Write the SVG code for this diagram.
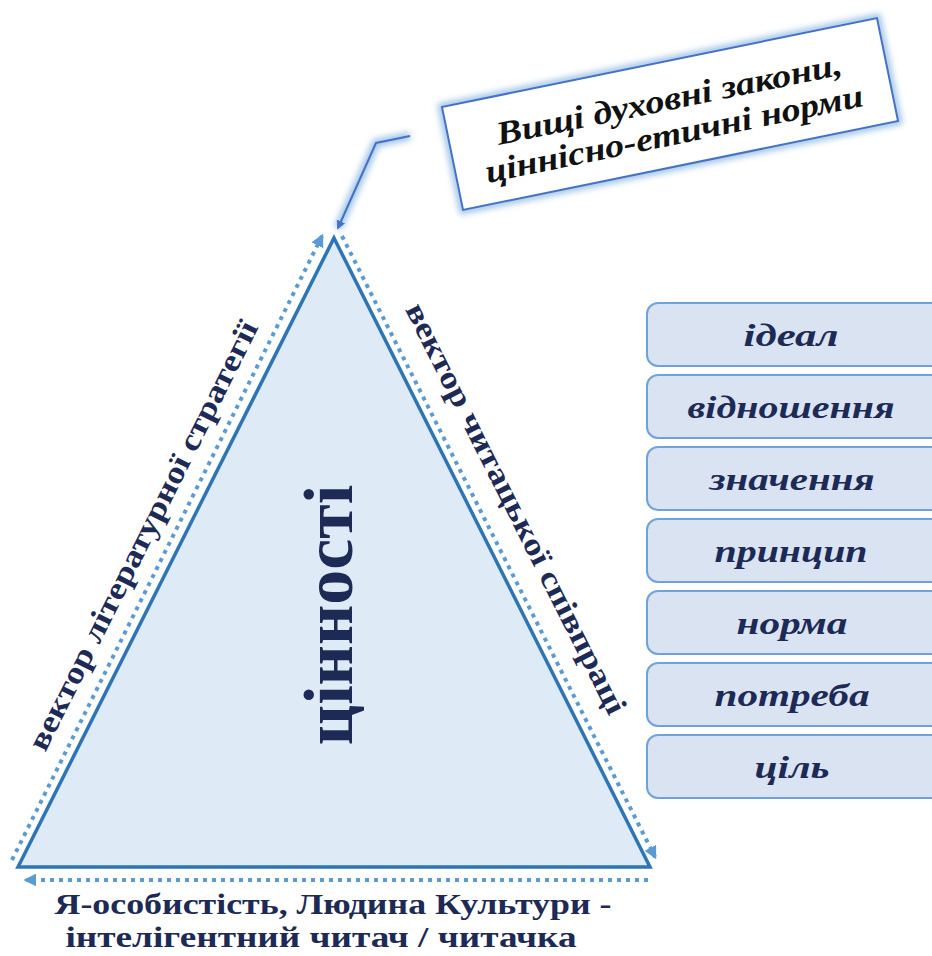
<svg xmlns="http://www.w3.org/2000/svg" width="932" height="956" viewBox="0 0 932 956">
<defs>
<style>
.dot{fill:none;stroke:#5b9bd5;stroke-width:4;stroke-dasharray:4 5}
.tri{fill:#deebf7;stroke:#2e75b6;stroke-width:3.5;stroke-linejoin:miter}
.box rect{fill:#d9e3f2;stroke:#6fa3d8;stroke-width:2}
.box text{font-family:"Liberation Serif","DejaVu Serif",serif;font-weight:bold;font-style:italic;font-size:32px;fill:#1c2a55;text-anchor:middle}
.lbl{font-family:"Liberation Serif","DejaVu Serif",serif;font-weight:bold;fill:#1c2a55;text-anchor:middle}
.call{font-family:"Liberation Serif","DejaVu Serif",serif;font-weight:bold;font-style:italic;font-size:33px;fill:#111;text-anchor:middle}
</style>
<filter id="blur" x="-20%" y="-20%" width="140%" height="140%"><feGaussianBlur stdDeviation="3"/></filter>
<marker id="ah" viewBox="0 0 10 10" refX="8" refY="5" markerWidth="13" markerHeight="13" markerUnits="userSpaceOnUse" orient="auto"><path d="M0,0 L10,5 L0,10 z" fill="#5b9bd5"/></marker>
<marker id="ah2" viewBox="0 0 10 10" refX="8" refY="5" markerWidth="9" markerHeight="9" markerUnits="userSpaceOnUse" orient="auto"><path d="M0,0 L10,5 L0,10 z" fill="#4472c4"/></marker>
</defs>
<rect width="932" height="956" fill="#ffffff"/>

<g id="triangle">
<polygon class="tri" points="334,238 650,867 18,867"/>
<text class="lbl" font-size="70" transform="translate(352,615) rotate(-90)" fill="#203864">цінності</text>
</g>

<g id="connectors">
<line class="dot" x1="12" y1="860" x2="322" y2="236" marker-end="url(#ah)"/>
<line class="dot" x1="342" y1="236" x2="655" y2="857" marker-end="url(#ah)"/>
<line class="dot" x1="648" y1="880" x2="26" y2="880" marker-end="url(#ah)"/>
<polyline points="410,136 376,143 338,228" fill="none" stroke="#9dc3e6" stroke-width="8" filter="url(#blur)"/>
<polyline points="410,136 376,143 338,228" fill="none" stroke="#4472c4" stroke-width="2" marker-end="url(#ah2)"/>
</g>

<g id="label-left">
<text class="lbl" font-size="31" textLength="476" lengthAdjust="spacingAndGlyphs" transform="translate(152,540) rotate(-63.33)">вектор літературної стратегії</text>
</g>
<g id="label-right">
<text class="lbl" font-size="31" textLength="456" lengthAdjust="spacingAndGlyphs" transform="translate(507,513) rotate(63.33)">вектор читацької співпраці</text>
</g>
<g id="label-bottom">
<text class="lbl" font-size="29" x="333" y="914" textLength="557" lengthAdjust="spacingAndGlyphs">Я-особистість, Людина Культури -</text>
<text class="lbl" font-size="29" x="321" y="947" textLength="511" lengthAdjust="spacingAndGlyphs">інтелігентний читач / читачка</text>
</g>

<g id="callout" transform="translate(670,114) rotate(-11.56)">
<rect x="-222" y="-52.5" width="444" height="105" fill="none" stroke="#9dc3e6" stroke-width="8" filter="url(#blur)"/>
<rect x="-222" y="-52.5" width="444" height="105" fill="#ffffff" stroke="#4472c4" stroke-width="2"/>
<text class="call" x="2" y="-4" textLength="352" lengthAdjust="spacingAndGlyphs">Вищі духовні закони,</text>
<text class="call" x="0" y="31" textLength="385" lengthAdjust="spacingAndGlyphs">ціннісно-етичні норми</text>
</g>

<g id="box-ideal" class="box"><rect x="647" y="303" width="300" height="63" rx="11"/><text x="791" y="346" textLength="95" lengthAdjust="spacingAndGlyphs">ідеал</text></g>
<g id="box-vidnoshennia" class="box"><rect x="647" y="375" width="300" height="63" rx="11"/><text x="791" y="418" textLength="207" lengthAdjust="spacingAndGlyphs">відношення</text></g>
<g id="box-znachennia" class="box"><rect x="647" y="447" width="300" height="63" rx="11"/><text x="792" y="490" textLength="165" lengthAdjust="spacingAndGlyphs">значення</text></g>
<g id="box-pryntsyp" class="box"><rect x="647" y="519" width="300" height="63" rx="11"/><text x="791" y="562" textLength="153" lengthAdjust="spacingAndGlyphs">принцип</text></g>
<g id="box-norma" class="box"><rect x="647" y="591" width="300" height="63" rx="11"/><text x="792" y="634" textLength="111" lengthAdjust="spacingAndGlyphs">норма</text></g>
<g id="box-potreba" class="box"><rect x="647" y="663" width="300" height="63" rx="11"/><text x="792" y="706" textLength="155" lengthAdjust="spacingAndGlyphs">потреба</text></g>
<g id="box-tsil" class="box"><rect x="647" y="735" width="300" height="63" rx="11"/><text x="792" y="778" textLength="75" lengthAdjust="spacingAndGlyphs">ціль</text></g>
</svg>
